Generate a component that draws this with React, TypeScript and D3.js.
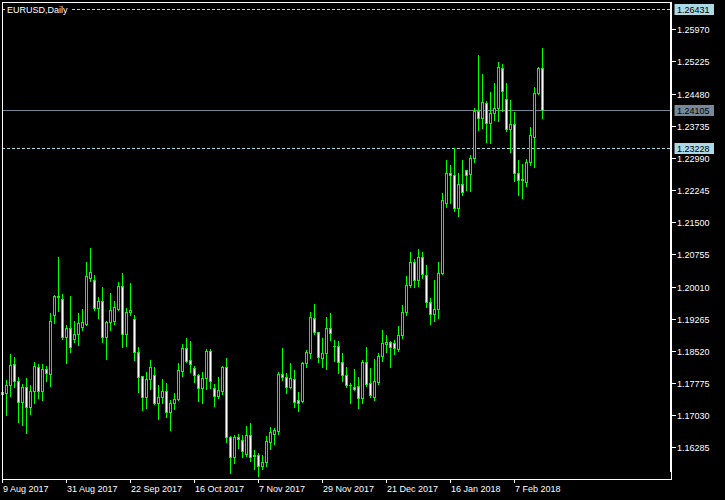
import React from 'react';
import * as d3 from 'd3';

// EURUSD daily, 9 Aug 2017 .. 16 Feb 2018
const open = [
  1.1751, 1.1755, 1.1772, 1.1821, 1.1781, 1.1734, 1.1768, 1.1723, 1.1758, 1.1815,
  1.1760, 1.1809, 1.1799, 1.1935, 1.1978, 1.1971, 1.1883, 1.1904, 1.1880, 1.1892,
  1.1908, 1.1914, 1.2020, 1.2015, 1.1952, 1.1968, 1.1885, 1.1918, 1.1922, 1.1950,
  1.2002, 1.1892, 1.1941, 1.1925, 1.1849, 1.1794, 1.1744, 1.1786, 1.1795, 1.1732,
  1.1744, 1.1758, 1.1711, 1.1731, 1.1740, 1.1806, 1.1859, 1.1831, 1.1812, 1.1796,
  1.1767, 1.1788, 1.1852, 1.1767, 1.1748, 1.1760, 1.1815, 1.1652, 1.1606, 1.1652,
  1.1645, 1.1613, 1.1656, 1.1609, 1.1611, 1.1586, 1.1594, 1.1641, 1.1659, 1.1667,
  1.1798, 1.1791, 1.1769, 1.1786, 1.1738, 1.1735, 1.1823, 1.1848, 1.1927, 1.1896,
  1.1836, 1.1846, 1.1904, 1.1864, 1.1864, 1.1826, 1.1795, 1.1773, 1.1769, 1.1770,
  1.1742, 1.1826, 1.1777, 1.1744, 1.1780, 1.1840, 1.1869, 1.1872, 1.1870, 1.1856,
  1.1888, 1.1943, 1.2005, 1.2057, 1.2015, 1.2069, 1.2028, 1.1966, 1.1937, 1.1948,
  1.2032, 1.2194, 1.2263, 1.2259, 1.2184, 1.2238, 1.2271, 1.2261, 1.2298, 1.2408,
  1.2392, 1.2426, 1.2381, 1.2402, 1.2414, 1.2507, 1.2435, 1.2366, 1.2377, 1.2263,
  1.2248, 1.2244, 1.2290, 1.2348, 1.2449, 1.2507,
];
const high = [
  1.1766, 1.1786, 1.1846, 1.1840, 1.1794, 1.1778, 1.1791, 1.1775, 1.1829, 1.1824,
  1.1824, 1.1819, 1.1942, 1.1984, 1.2072, 1.1985, 1.1914, 1.1981, 1.1924, 1.1942,
  1.1951, 1.2060, 1.2093, 1.2030, 1.1979, 1.2002, 1.1924, 1.1988, 1.1970, 1.2013,
  1.2035, 1.1953, 1.2011, 1.1937, 1.1863, 1.1795, 1.1805, 1.1833, 1.1818, 1.1775,
  1.1789, 1.1779, 1.1740, 1.1757, 1.1826, 1.1871, 1.1883, 1.1877, 1.1820, 1.1801,
  1.1805, 1.1859, 1.1859, 1.1777, 1.1794, 1.1820, 1.1837, 1.1658, 1.1660, 1.1661,
  1.1659, 1.1680, 1.1688, 1.1624, 1.1618, 1.1612, 1.1657, 1.1678, 1.1675, 1.1805,
  1.1861, 1.1802, 1.1825, 1.1810, 1.1759, 1.1828, 1.1856, 1.1944, 1.1963, 1.1899,
  1.1885, 1.1933, 1.1941, 1.1879, 1.1877, 1.1849, 1.1817, 1.1779, 1.1812, 1.1794,
  1.1833, 1.1863, 1.1814, 1.1835, 1.1849, 1.1903, 1.1890, 1.1877, 1.1879, 1.1912,
  1.1961, 1.2028, 1.2083, 1.2068, 1.2091, 1.2083, 1.2053, 1.1976, 1.2018, 1.2060,
  1.2221, 1.2297, 1.2285, 1.2324, 1.2267, 1.2296, 1.2272, 1.2308, 1.2416, 1.2540,
  1.2496, 1.2433, 1.2454, 1.2476, 1.2524, 1.2520, 1.2476, 1.2435, 1.2408, 1.2297,
  1.2287, 1.2298, 1.2373, 1.2466, 1.2512, 1.2555,
];
const low = [
  1.1743, 1.1703, 1.1748, 1.1769, 1.1686, 1.1680, 1.1662, 1.1706, 1.1730, 1.1743,
  1.1738, 1.1782, 1.1771, 1.1917, 1.1945, 1.1880, 1.1823, 1.1850, 1.1873, 1.1866,
  1.1900, 1.1912, 1.2014, 1.1947, 1.1927, 1.1873, 1.1834, 1.1900, 1.1914, 1.1947,
  1.1862, 1.1863, 1.1935, 1.1830, 1.1757, 1.1715, 1.1720, 1.1763, 1.1729, 1.1694,
  1.1730, 1.1699, 1.1669, 1.1718, 1.1738, 1.1794, 1.1825, 1.1804, 1.1780, 1.1736,
  1.1730, 1.1764, 1.1767, 1.1725, 1.1742, 1.1753, 1.1640, 1.1569, 1.1593, 1.1626,
  1.1607, 1.1609, 1.1597, 1.1578, 1.1562, 1.1578, 1.1586, 1.1624, 1.1637, 1.1660,
  1.1784, 1.1755, 1.1765, 1.1723, 1.1713, 1.1733, 1.1814, 1.1836, 1.1892, 1.1827,
  1.1815, 1.1809, 1.1877, 1.1829, 1.1800, 1.1781, 1.1769, 1.1730, 1.1761, 1.1719,
  1.1730, 1.1771, 1.1746, 1.1738, 1.1775, 1.1829, 1.1850, 1.1815, 1.1845, 1.1852,
  1.1882, 1.1935, 1.2000, 1.2001, 1.2003, 1.2020, 1.1954, 1.1914, 1.1920, 1.1929,
  1.2030, 1.2186, 1.2195, 1.2177, 1.2164, 1.2213, 1.2225, 1.2222, 1.2290, 1.2364,
  1.2368, 1.2337, 1.2334, 1.2387, 1.2385, 1.2408, 1.2362, 1.2313, 1.2246, 1.2212,
  1.2205, 1.2235, 1.2283, 1.2277, 1.2447, 1.2392,
];
const close = [
  1.1757, 1.1772, 1.1819, 1.1781, 1.1734, 1.1768, 1.1723, 1.1758, 1.1817, 1.1760,
  1.1809, 1.1800, 1.1921, 1.1978, 1.1976, 1.1883, 1.1904, 1.1862, 1.1892, 1.1916,
  1.1918, 1.2025, 1.2034, 1.1952, 1.1968, 1.1885, 1.1919, 1.1947, 1.1953, 1.2002,
  1.1892, 1.1942, 1.1947, 1.1849, 1.1792, 1.1744, 1.1787, 1.1815, 1.1732, 1.1744,
  1.1758, 1.1711, 1.1731, 1.1740, 1.1808, 1.1859, 1.1829, 1.1821, 1.1795, 1.1765,
  1.1789, 1.1852, 1.1781, 1.1748, 1.1761, 1.1815, 1.1652, 1.1607, 1.1652, 1.1648,
  1.1619, 1.1656, 1.1607, 1.1610, 1.1586, 1.1594, 1.1643, 1.1663, 1.1668, 1.1798,
  1.1791, 1.1769, 1.1788, 1.1733, 1.1732, 1.1823, 1.1849, 1.1930, 1.1896, 1.1837,
  1.1846, 1.1904, 1.1893, 1.1863, 1.1826, 1.1795, 1.1773, 1.1774, 1.1764, 1.1742,
  1.1826, 1.1775, 1.1750, 1.1781, 1.1840, 1.1870, 1.1872, 1.1862, 1.1858, 1.1889,
  1.1943, 1.2005, 1.2057, 1.2015, 1.2069, 1.2029, 1.1966, 1.1937, 1.1948, 1.2032,
  1.2202, 1.2263, 1.2259, 1.2184, 1.2238, 1.2221, 1.2260, 1.2298, 1.2408, 1.2392,
  1.2428, 1.2381, 1.2402, 1.2414, 1.2509, 1.2455, 1.2366, 1.2377, 1.2263, 1.2248,
  1.2249, 1.2290, 1.2352, 1.2449, 1.2507, 1.24105,
];

const dateLabels = ['9 Aug 2017', '31 Aug 2017', '22 Sep 2017', '16 Oct 2017', '7 Nov 2017', '29 Nov 2017', '21 Dec 2017', '16 Jan 2018', '7 Feb 2018'];
const dateLabelBars = [0, 16, 32, 48, 64, 80, 96, 112, 128];
const priceTicks = [1.2597, 1.25225, 1.2448, 1.23735, 1.2299, 1.22245, 1.215, 1.20755, 1.2001, 1.19265, 1.1852, 1.17775, 1.1703, 1.16285];
const dashedLevels = [1.26431, 1.23228];
const bidPrice = 1.24105;
const title = 'EURUSD,Daily';

const W = 725;
const H = 500;
const frame = { left: 2, top: 2, right: 672, bottom: 479 };
const font = '"Liberation Sans", Arial, sans-serif';

export default function App() {
  // 4 px per bar, bar centres on pixel centres
  const x = d3.scaleLinear().domain([0, 167.5]).range([frame.left + 0.5, frame.right + 0.5]);
  const y = d3.scaleLinear().domain([1.16285, 1.2597]).range([447.3, 29.3]);
  const py = (v: number) => Math.round(y(v)) + 0.5;

  const bars = d3.range(open.length).map(i => ({ i, o: open[i], h: high[i], l: low[i], c: close[i] }));

  const priceBox = (v: number, bg: string) => (
    <g key={'box' + v}>
      <rect x={674.5} y={py(v) - 5.5} width={39.5} height={11} fill={bg} />
      <text x={677} y={py(v) + 3.5} fill="#000" fontSize={9} fontFamily={font}>{v.toFixed(5)}</text>
    </g>
  );

  return (
    <svg width={W} height={H} style={{ position: 'fixed', left: 0, top: 0, display: 'block' }}>
      <rect x={0} y={0} width={W} height={H} fill="#000" />

      <g shapeRendering="crispEdges">
        {/* horizontal levels */}
        {dashedLevels.map(v => (
          <line key={'lvl' + v} x1={frame.left} x2={frame.right - 2} y1={py(v)} y2={py(v)}
            stroke="#add8e6" strokeDasharray="3,2" />
        ))}
        <line x1={frame.left} x2={frame.right - 2} y1={py(bidPrice)} y2={py(bidPrice)} stroke="#778899" />

        {/* candles */}
        {bars.map(b => {
          const cx = x(b.i);
          const top = py(Math.max(b.o, b.c));
          const bot = py(Math.min(b.o, b.c));
          return (
            <g key={b.i}>
              <line x1={cx} x2={cx} y1={py(b.h)} y2={py(b.l) + 0.5} stroke="#00ff00" />
              <rect x={cx - 1} y={top} width={2} height={Math.max(bot - top, 0.1)}
                fill={b.c >= b.o ? '#000' : '#fff'} stroke="#00ff00" />
            </g>
          );
        })}
      </g>

      {/* title */}
      <rect x={6.5} y={3} width={64} height={12} fill="#000" />
      <text x={7} y={13} fill="#fff" fontSize={9} fontFamily={font}>{title}</text>

      {/* frame & axes */}
      <g shapeRendering="crispEdges">
        <rect x={frame.left + 0.5} y={frame.top + 0.5} width={frame.right - frame.left - 1} height={frame.bottom - frame.top}
          fill="none" stroke="#fff" />
        <line x1={frame.right - 1} x2={frame.right - 1} y1={frame.top} y2={472} stroke="#fff" strokeWidth={2} />
        {priceTicks.map(v => (
          <line key={'pt' + v} x1={frame.right} x2={frame.right + 4} y1={py(v)} y2={py(v)} stroke="#fff" />
        ))}
        {dateLabelBars.map(i => (
          <line key={'dt' + i} x1={x(i)} x2={x(i)} y1={frame.bottom} y2={frame.bottom + 4} stroke="#fff" />
        ))}
      </g>

      {priceTicks.map(v => (
        <text key={'pl' + v} x={677} y={py(v) + 3.5} fill="#fff" fontSize={9} fontFamily={font}>{v.toFixed(5)}</text>
      ))}
      {dateLabels.map((s, k) => (
        <text key={s} x={x(dateLabelBars[k]) + 0.5} y={492} fill="#fff" fontSize={9} fontFamily={font}>{s}</text>
      ))}

      {dashedLevels.map(v => priceBox(v, '#add8e6'))}
      {priceBox(bidPrice, '#778899')}
    </svg>
  );
}
